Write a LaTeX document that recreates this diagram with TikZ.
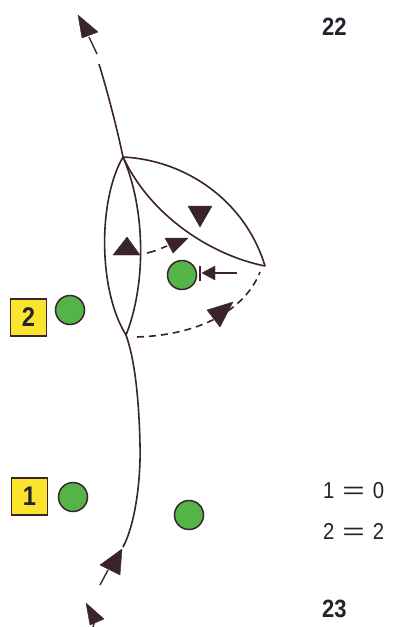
\documentclass[tikz,border=0pt]{standalone}
\usepackage{fontspec}
\usepackage{graphicx}
\setmainfont{Liberation Sans}[FakeStretch=0.88]
\definecolor{ink}{RGB}{58,36,42}
\definecolor{txt}{RGB}{35,35,45}
\definecolor{grn}{RGB}{84,180,72}
\definecolor{yel}{RGB}{250,228,45}
\newcommand{\wideeq}{\hspace{8pt}\scalebox{1.9}[1]{=}\hspace{8pt}}
\begin{document}
\begin{tikzpicture}[x=1pt,y=-1pt,
  player/.style={circle, draw=ink, fill=grn, line width=1.5pt, minimum size=29pt, inner sep=0pt},
  numbox/.style={draw=ink, fill=yel, line width=1.5pt, minimum width=36pt, minimum height=37pt, inner sep=0pt, text=txt, font=\bfseries\fontsize{27}{27}\selectfont},
  run/.style={draw=ink, line width=1.6pt},
  pass/.style={run, dash pattern=on 7pt off 5pt},
  head/.style={fill=ink, draw=ink, line width=0.4pt, line join=round},
  lbl/.style={anchor=base west, inner sep=0pt, text=txt, font=\fontsize{23}{23}\selectfont},
  blbl/.style={lbl, font=\bfseries\fontsize{25}{25}\selectfont}]
\useasboundingbox (0,0) rectangle (392,627);
\fill[white] (0,0) rectangle (392,627);

% key points
\coordinate (T) at (123,157);
\coordinate (B) at (126,335);
\coordinate (R) at (265,266);

% players
\node[numbox] (n2) at (28.5,317.5) {2};
\node[player] (p2) at (70,310) {};
\node[numbox] (n1) at (29.5,496.5) {1};
\node[player] (p1) at (73,497) {};
\node[player] (pc) at (182,275) {};
\node[player] (pb) at (189,515) {};

% main run line
\draw[run] (123,547) .. controls (135,525) and (141,480) .. (140,445)
  .. controls (139,400) and (135,360) .. (B);
\draw[run] (T) .. controls (117,128) and (107,90) .. (99,64);
\draw[run, line width=1.4pt] (97,54) -- (89,37);
\fill[head] (78,15) -- (98,32) -- (82,38) -- cycle;

% bottom arrows
\draw[run, line width=1.4pt] (100,585) -- (108,570);
\fill[head] (122,549) -- (100,565) -- (120,575) -- cycle;
\fill[head] (86,603) -- (104,619) -- (90,625) -- cycle;
\draw[run, line width=1.4pt] (93,627) -- (95,620);

% lens 1
\draw[run] (T) .. controls (98,200) and (98,290) .. (B);
\draw[run] (T) .. controls (146,210) and (146,285) .. (B);
% lens 2
\draw[run] (T) .. controls (185,160) and (245,200) .. (R);
\draw[run] (T) .. controls (150,215) and (210,255) .. (R);

% triangles (players)
\fill[head] (113,255) -- (140,255) -- (127,237) -- cycle;
\fill[head] (188,206) -- (212,206) -- (200,227) -- cycle;

% dashed passes
\draw[pass, dash pattern=on 9pt off 6pt] (147,253) .. controls (155,251) .. (167,246);
\fill[head] (188,238) -- (165,238) -- (173,253) -- cycle;
\draw[pass] (137,337) .. controls (200,335) and (245,310) .. (260,272);
\fill[head] (233,302) -- (207,310) -- (220,327) -- cycle;

% stopped-ball arrow
\draw[run, line width=1.3pt] (237,273) -- (214,273);
\fill[head] (202,273) -- (215,266) -- (215,280) -- cycle;
\draw[run, line width=1.5pt] (200,266) -- (200,281);

% texts
\node[blbl] (t22) at (322,35) {22};
\node[lbl] (s1) at (323,498) {1\wideeq 0};
\node[lbl] (s2) at (323,539) {2\wideeq 2};
\node[blbl] (t23) at (322,617) {23};
\end{tikzpicture}
\end{document}
